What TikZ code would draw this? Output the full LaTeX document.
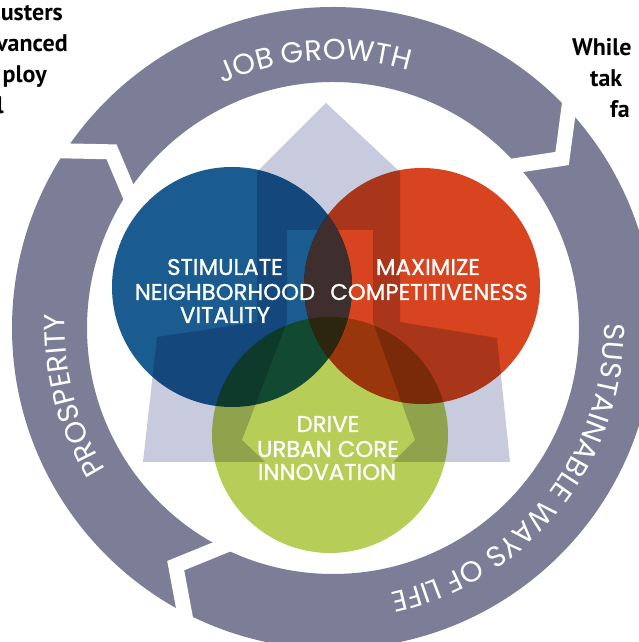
\documentclass[tikz,border=0pt]{standalone}
\usepackage{fontspec}
\setmainfont{Poppins}
\newfontfamily\bodyfam{PT Sans Bold}
\newfontfamily\circfam[FakeBold=1]{Poppins}
\usetikzlibrary{decorations.text}
\definecolor{ringgray}{RGB}{123,126,150}
\definecolor{chev}{RGB}{255,255,255}
\definecolor{lav}{RGB}{200,202,222}
\definecolor{cblue}{RGB}{26,92,144}
\definecolor{cred}{RGB}{216,68,32}
\definecolor{cgreen}{RGB}{182,206,88}
\definecolor{cbr}{RGB}{62,46,46}
\newcommand\ringfnt{\fontsize{29}{29}\selectfont}
\begin{document}
\begin{tikzpicture}[x=1pt,y=1pt,
  chevron/.style={draw=chev,line width=15,line join=miter},
  ringtext/.style={decorate,decoration={text along path,text align=center,text color=white,text={|\ringfnt|#1}}},
  circtext/.style={text=white,anchor=base,inner sep=0,font=\circfam\fontsize{22.8}{24}\selectfont},
  bodytext/.style={text=black,inner sep=0,font=\bodyfam\fontsize{24}{30}\selectfont},
  venn/.style={blend mode=multiply}]
\useasboundingbox (0,0) rectangle (638,642);
\fill[white] (0,0) rectangle (638,642);
\coordinate (C) at (333,314);
% ring
\fill[ringgray,even odd rule] (C) circle[radius=321] (C) circle[radius=246];
\begin{scope}[shift={(333,314)}]
  \draw[chevron] (149:345) -- (141.5:283) -- (149:230);
  \draw[chevron] (46:345) -- (36.5:285) -- (44:230);
  \draw[chevron] (245.5:345) -- (236.5:285) -- (246.5:230);
  \path[ringtext={JOB GROWTH}] (144:268) arc[start angle=144,end angle=44,radius=268];
  \path[ringtext={SUSTAINABLE WAYS OF LIFE}] (25:271) arc[start angle=25,end angle=-102,radius=271];
  \path[ringtext={PROSPERITY}] (235:268) arc[start angle=235,end angle=154,radius=268];
\end{scope}
% lavender shape (y = 642 - screen y)
\fill[lav] (326,539) -- (257,470) -- (257,320) -- (157,305) -- (143,180) -- (265,180)
  -- (242,202) -- (287,320) -- (287,412) -- (373,412) -- (373,320) -- (415,202)
  -- (393,180) -- (510,180) -- (497,304) -- (400,320) -- (400,470) -- cycle;
% circles
\fill[cblue,venn] (232,355) circle[radius=120];
\fill[cred,venn] (422,356) circle[radius=118];
\begin{scope}
  \clip (232,355) circle[radius=120];
  \fill[cbr] (422,356) circle[radius=118];
\end{scope}
\fill[cgreen,venn] (330,207) circle[radius=118];
% labels
\node[circtext] (s1) at (225,367) {STIMULATE};
\node[circtext] (s2) at (225,342) {NEIGHBORHOOD};
\node[circtext] (s3) at (225,319) {VITALITY};
\node[circtext] (m1) at (428,367) {MAXIMIZE};
\node[circtext] (m2) at (429,342) {COMPETITIVENESS};
\node[circtext] (d1) at (328,210) {DRIVE};
\node[circtext] (d2) at (328,185) {URBAN CORE};
\node[circtext] (d3) at (327,162) {INNOVATION};
% surrounding text fragments
\node[bodytext,anchor=base east] (l1) at (63,621) {usters};
\node[bodytext,anchor=base east] (l2) at (68,590) {vanced};
\node[bodytext,anchor=base east] (l3) at (47,559) {ploy};
\node[bodytext,anchor=base east] (l4) at (4,528) {l};
\node[bodytext,anchor=base west] (r1) at (572,586) {While};
\node[bodytext,anchor=base west] (r2) at (590,555) {tak};
\node[bodytext,anchor=base west] (r3) at (610,524) {fa};
\end{tikzpicture}
\end{document}
